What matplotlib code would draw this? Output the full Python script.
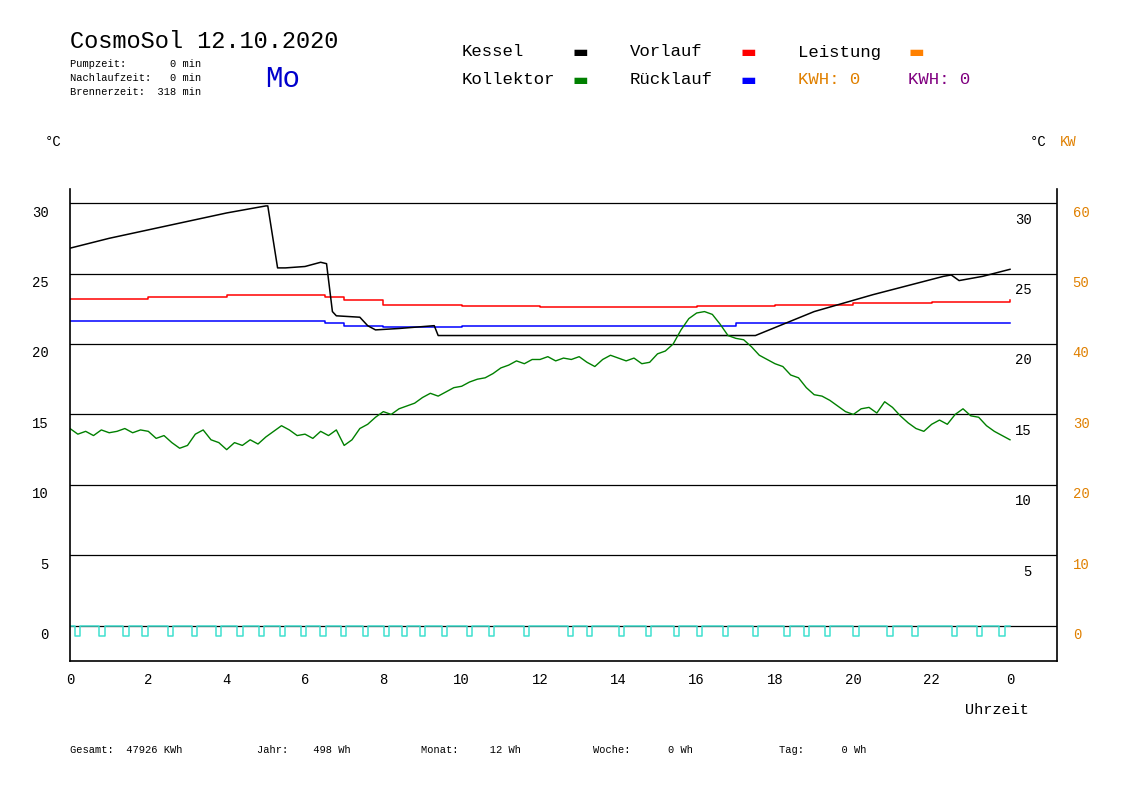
import matplotlib
matplotlib.use("Agg")
import matplotlib.pyplot as plt

MONO = "Liberation Mono"

# --- data (hours, degC) ---
kessel_h = [0, 1, 2, 3, 4, 4.6, 5.0, 5.05, 5.3, 5.5, 6.0, 6.4, 6.55, 6.7, 6.8, 7.4, 7.6, 7.8, 8.4, 9.3, 9.4, 17.5, 19, 20.5, 22.3, 22.5, 22.7, 23.3, 24]
kessel_v = [26.8, 27.5, 28.1, 28.7, 29.3, 29.6, 29.8, 29.8, 25.4, 25.4, 25.5, 25.8, 25.7, 22.3, 22.0, 21.9, 21.3, 21.0, 21.1, 21.3, 20.6, 20.6, 22.3, 23.5, 24.8, 24.9, 24.5, 24.8, 25.3]

vorlauf_h = [0, 2, 4, 5, 6, 6.5, 7, 8, 10, 12, 14, 16, 18, 20, 22, 24]
vorlauf_v = [23.2, 23.3, 23.5, 23.5, 23.5, 23.3, 23.1, 22.8, 22.7, 22.6, 22.6, 22.7, 22.8, 22.9, 23.0, 23.1]

ruecklauf_h = [0, 3, 6, 6.5, 7, 8, 10, 14, 17, 20, 24]
ruecklauf_v = [21.6, 21.6, 21.6, 21.5, 21.3, 21.2, 21.3, 21.3, 21.5, 21.5, 21.5]

kollektor_h = [0, 0.2, 0.4, 0.6, 0.8, 1.0, 1.2, 1.4, 1.6, 1.8, 2.0, 2.2, 2.4, 2.6, 2.8, 3.0, 3.2, 3.4, 3.6, 3.8,
               4.0, 4.2, 4.4, 4.6, 4.8, 5.0, 5.2, 5.4, 5.6, 5.8, 6.0, 6.2, 6.4, 6.6, 6.8, 7.0, 7.2, 7.4, 7.6, 7.8,
               8.0, 8.2, 8.4, 8.6, 8.8, 9.0, 9.2, 9.4, 9.6, 9.8, 10.0, 10.2, 10.4, 10.6, 10.8, 11.0, 11.2, 11.4, 11.6, 11.8,
               12.0, 12.2, 12.4, 12.6, 12.8, 13.0, 13.2, 13.4, 13.6, 13.8, 14.0, 14.2, 14.4, 14.6, 14.8, 15.0, 15.2, 15.4, 15.6, 15.8,
               16.0, 16.2, 16.4, 16.6, 16.8, 17.0, 17.2, 17.4, 17.6, 17.8, 18.0, 18.2, 18.4, 18.6, 18.8, 19.0, 19.2, 19.4, 19.6, 19.8,
               20.0, 20.2, 20.4, 20.6, 20.8, 21.0, 21.2, 21.4, 21.6, 21.8, 22.0, 22.2, 22.4, 22.6, 22.8, 23.0, 23.2, 23.4, 23.6, 23.8, 24.0]
kollektor_v = [14.0, 13.6, 13.8, 13.5, 13.9, 13.7, 13.8, 14.0, 13.7, 13.9, 13.8, 13.3, 13.5, 13.0, 12.6, 12.8, 13.6, 13.9, 13.2, 13.0,
               12.5, 13.0, 12.8, 13.2, 12.9, 13.4, 13.8, 14.2, 13.9, 13.5, 13.6, 13.3, 13.8, 13.5, 13.9, 12.8, 13.2, 14.0, 14.3, 14.8,
               15.2, 15.0, 15.4, 15.6, 15.8, 16.2, 16.5, 16.3, 16.6, 16.9, 17.0, 17.3, 17.5, 17.6, 17.9, 18.3, 18.5, 18.8, 18.6, 18.9,
               18.9, 19.1, 18.8, 19.0, 18.9, 19.1, 18.7, 18.4, 18.9, 19.2, 19.0, 18.8, 19.0, 18.6, 18.7, 19.3, 19.5, 20.0, 21.0, 21.8,
               22.2, 22.3, 22.1, 21.4, 20.6, 20.4, 20.3, 19.8, 19.2, 18.9, 18.6, 18.4, 17.8, 17.6, 16.9, 16.4, 16.3, 16.0, 15.6, 15.2,
               15.0, 15.4, 15.5, 15.1, 15.9, 15.5, 14.9, 14.4, 14.0, 13.8, 14.3, 14.6, 14.3, 15.0, 15.4, 14.9, 14.8, 14.2, 13.8, 13.5, 13.2]

pump_starts = [0.12, 0.75, 1.36, 1.85, 2.49, 3.12, 3.73, 4.27, 4.83, 5.36, 5.90, 6.39, 6.92, 7.48, 8.01, 8.47,
               8.94, 9.50, 10.14, 10.70, 11.59, 12.71, 13.20, 14.01, 14.71, 15.42, 16.01, 16.67, 17.44, 18.24,
               18.73, 19.27, 20.0, 20.87, 21.51, 22.51, 23.16, 23.73]
pump_width = 0.135
pump_depth = -0.7

x_ticks = list(range(0, 25, 2))
x_labels = [str(h % 24) for h in x_ticks]
left_ticks = [0, 5, 10, 15, 20, 25, 30]
right_ticks = [0, 5, 10, 15, 20, 25, 30]
right_kw = [0, 10, 20, 30, 40, 50, 60]

# pump pulse trace built from the start times
pump_x, pump_y = [0], [0]
for s in pump_starts:
    pump_x += [s, s, s + pump_width, s + pump_width]
    pump_y += [0, pump_depth, pump_depth, 0]
pump_x.append(24)
pump_y.append(0)

fig = plt.figure(figsize=(11.48, 8.12), dpi=100)
ax = fig.add_axes([70 / 1148, 1 - 662 / 812, 987 / 1148, 472 / 812])
ax.set_xlim(0, 25.2)
ax.set_ylim(-2.5, 31)

for t in left_ticks:
    ax.axhline(t, color="black", lw=0.9)
ax.plot(pump_x, pump_y, color="#40e0d0", lw=1.1)
ax.plot(vorlauf_h, vorlauf_v, color="red", lw=1.1, drawstyle="steps-post")
ax.plot(ruecklauf_h, ruecklauf_v, color="blue", lw=1.1, drawstyle="steps-post")
ax.plot(kessel_h, kessel_v, color="black", lw=1.1)
ax.plot(kollektor_h, kollektor_v, color="green", lw=1.0)

ax.spines["top"].set_visible(False)
for s in ["left", "right", "bottom"]:
    ax.spines[s].set_linewidth(1.2)
ax.tick_params(direction="out", length=0)
ax.set_xticks(x_ticks)
ax.set_xticklabels(x_labels, family=MONO, fontsize=10)
ax.tick_params(axis="x", pad=8)
ax.set_yticks([])

for t in left_ticks:
    ax.text(-0.55, t - 0.6, str(t), ha="right", va="center", family=MONO, fontsize=10)
for t, k in zip(right_ticks, right_kw):
    if t > 0:
        ax.text(24.55, t - 1.1, str(t), ha="right", va="center", family=MONO, fontsize=10)
    ax.text(25.6, t - 0.6, str(k), ha="left", va="center", family=MONO, fontsize=10, color="#e08000")

# header and labels
fig.text(70 / 1148, 1 - 42 / 812, "CosmoSol 12.10.2020", family=MONO, fontsize=17, va="center")
fig.text(70 / 1148, 1 - 64 / 812, "Pumpzeit:       0 min", family=MONO, fontsize=7.5, va="center")
fig.text(70 / 1148, 1 - 78 / 812, "Nachlaufzeit:   0 min", family=MONO, fontsize=7.5, va="center")
fig.text(70 / 1148, 1 - 92 / 812, "Brennerzeit:  318 min", family=MONO, fontsize=7.5, va="center")
fig.text(265 / 1148, 1 - 79 / 812, "Mo", family=MONO, fontsize=21, va="center", color="#0000cc")

legend_items = [("Kessel", 462, 52, "black"), ("Vorlauf", 630, 52, "red"), ("Leistung", 798, 52, "#ff8000"),
                ("Kollektor", 462, 80, "green"), ("Rücklauf", 630, 80, "blue")]
for name, x, y, c in legend_items:
    fig.text(x / 1148, 1 - y / 812, name, family=MONO, fontsize=12.5, va="center")
    fig.text((x + 110) / 1148, 1 - y / 812, "\u25ac", fontsize=12, va="center", color=c)
fig.text(798 / 1148, 1 - 80 / 812, "KWH: 0", family=MONO, fontsize=12.5, va="center", color="#e08000")
fig.text(908 / 1148, 1 - 80 / 812, "KWH: 0", family=MONO, fontsize=12.5, va="center", color="#800080")

fig.text(45 / 1148, 1 - 142 / 812, "°C", family=MONO, fontsize=10, va="center")
fig.text(1030 / 1148, 1 - 142 / 812, "°C", family=MONO, fontsize=10, va="center")
fig.text(1060 / 1148, 1 - 142 / 812, "KW", family=MONO, fontsize=10, va="center", color="#e08000")
fig.text(965 / 1148, 1 - 710 / 812, "Uhrzeit", family=MONO, fontsize=11, va="center")

footer = [("Gesamt:  47926 KWh", 70), ("Jahr:    498 Wh", 257), ("Monat:     12 Wh", 421),
          ("Woche:      0 Wh", 593), ("Tag:      0 Wh", 779)]
for txt, x in footer:
    fig.text(x / 1148, 1 - 750 / 812, txt, family=MONO, fontsize=7.5, va="center")

fig.savefig("out.png", dpi=100)
